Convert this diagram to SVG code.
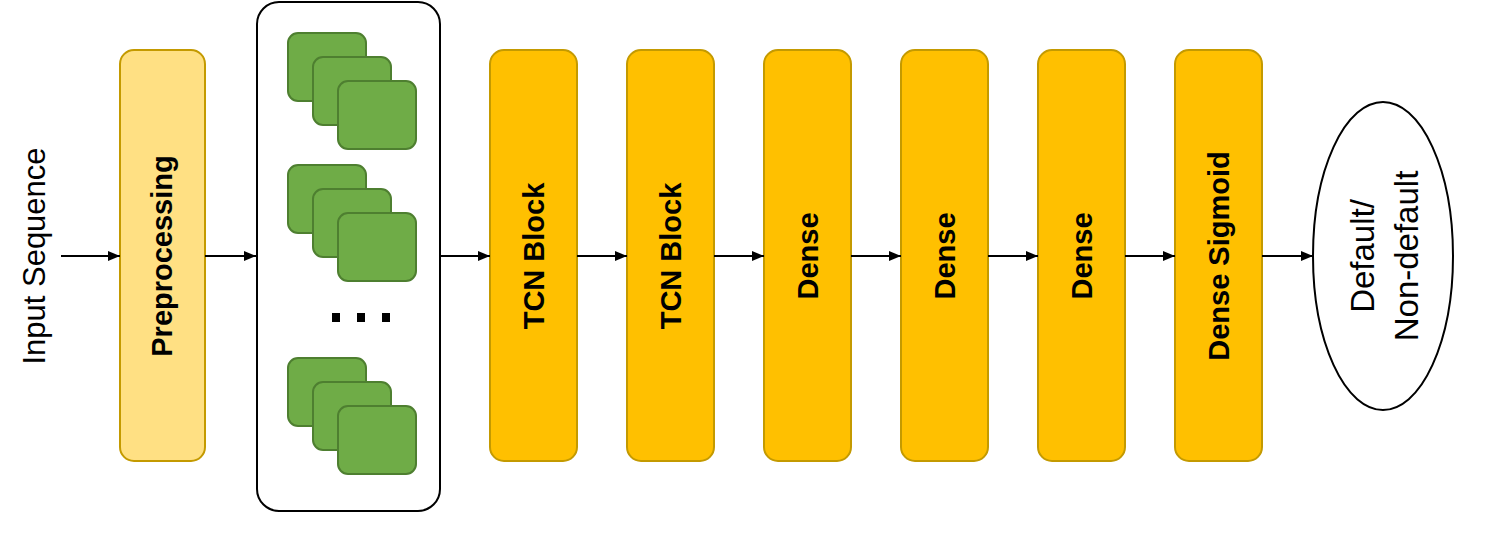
<svg xmlns="http://www.w3.org/2000/svg" width="1504" height="550" viewBox="0 0 1504 550">
<style>
.blk{fill:#ffc000;stroke:#c49a00;stroke-width:2}
.pre{fill:#ffe083;stroke:#c49a00;stroke-width:2}
.g{fill:#6fac47;stroke:#4e7f30;stroke-width:2}
.bt{font-family:"Liberation Sans",Arial,sans-serif;font-weight:bold;font-size:29px;fill:#000;text-anchor:middle;dominant-baseline:central}
.rt{font-family:"Liberation Sans",Arial,sans-serif;font-size:31px;fill:#000;text-anchor:middle;dominant-baseline:central}
.c{stroke:#000;stroke-width:2;fill:none;marker-end:url(#a)}
</style>
<defs>
<marker id="a" markerWidth="12" markerHeight="10" refX="12" refY="5" orient="auto" markerUnits="userSpaceOnUse"><path d="M0,0L12,5L0,10z" fill="#000"/></marker>
<g id="stack">
<rect class="g" x="288" y="33" width="78" height="68" rx="10"/>
<rect class="g" x="313" y="57" width="78" height="68" rx="10"/>
<rect class="g" x="338" y="81" width="78" height="68" rx="10"/>
</g>
</defs>
<g id="input"><text class="rt" transform="translate(34,256) rotate(-90)">Input Sequence</text></g>
<g id="pre"><rect class="pre" x="120" y="50" width="85" height="411" rx="14"/><text class="bt" transform="translate(162,256) rotate(-90)">Preprocessing</text></g>
<g id="container">
<rect x="257" y="2" width="183" height="509" rx="22" fill="#fff" stroke="#000" stroke-width="2"/>
<use href="#stack"/>
<use href="#stack" y="132"/>
<use href="#stack" y="325"/>
<rect x="332" y="313" width="8" height="9"/><rect x="357" y="313" width="8" height="9"/><rect x="382" y="313" width="8" height="9"/>
</g>
<g id="tcn1"><rect class="blk" x="490" y="50" width="87" height="411" rx="14"/><text class="bt" transform="translate(534,256) rotate(-90)">TCN Block</text></g>
<g id="tcn2"><rect class="blk" x="627" y="50" width="87" height="411" rx="14"/><text class="bt" transform="translate(671,256) rotate(-90)">TCN Block</text></g>
<g id="d1"><rect class="blk" x="764" y="50" width="87" height="411" rx="14"/><text class="bt" transform="translate(808,256) rotate(-90)">Dense</text></g>
<g id="d2"><rect class="blk" x="901" y="50" width="87" height="411" rx="14"/><text class="bt" transform="translate(945,256) rotate(-90)">Dense</text></g>
<g id="d3"><rect class="blk" x="1038" y="50" width="87" height="411" rx="14"/><text class="bt" transform="translate(1082,256) rotate(-90)">Dense</text></g>
<g id="ds"><rect class="blk" x="1175" y="50" width="87" height="411" rx="14"/><text class="bt" transform="translate(1219,256) rotate(-90)">Dense Sigmoid</text></g>
<g id="out"><ellipse cx="1383" cy="256" rx="70" ry="154" fill="#fff" stroke="#000" stroke-width="2"/>
<text class="rt" transform="translate(1362,256) rotate(-90)" style="font-size:33px">Default/</text>
<text class="rt" transform="translate(1406,256) rotate(-90)" style="font-size:33px">Non-default</text></g>
<g id="connectors">
<line class="c" x1="61" y1="256" x2="120" y2="256"/>
<line class="c" x1="205" y1="256" x2="256" y2="256"/>
<line class="c" x1="440" y1="256" x2="490" y2="256"/>
<line class="c" x1="577" y1="256" x2="627" y2="256"/>
<line class="c" x1="714" y1="256" x2="764" y2="256"/>
<line class="c" x1="851" y1="256" x2="901" y2="256"/>
<line class="c" x1="988" y1="256" x2="1038" y2="256"/>
<line class="c" x1="1125" y1="256" x2="1175" y2="256"/>
<line class="c" x1="1262" y1="256" x2="1313" y2="256"/>
</g>
</svg>
